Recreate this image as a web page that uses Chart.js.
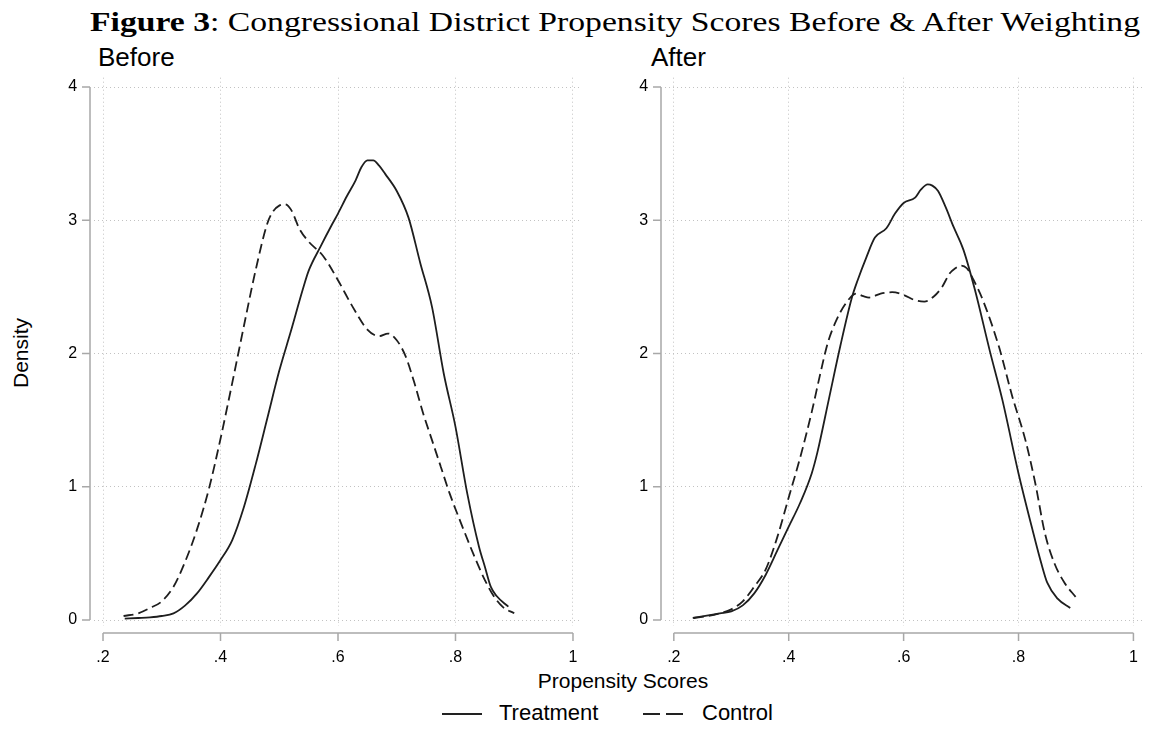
<!DOCTYPE html>
<html>
<head>
<meta charset="utf-8">
<script src="https://cdn.jsdelivr.net/npm/chart.js@4.4.1/dist/chart.umd.min.js"></script>
<style>
  body { margin: 0; background: #fff; width: 1151px; height: 731px; position: relative; overflow: hidden;
         font-family: "Liberation Sans", Arial, sans-serif; color: #000; }
  .abs { position: absolute; white-space: nowrap; line-height: 1; }
  #title { left: 90px; top: 7.5px; font-family: "Liberation Serif", serif; font-size: 28px; transform-origin: 0 50%; }
  .sub { top: 44px; font-size: 26px; }
  #ylab { left: 20px; top: 353px; font-size: 21px; transform: translate(-50%, -50%) rotate(-90deg); }
  #xlab { left: 623px; top: 670px; font-size: 21px; transform: translateX(-50%); }
  .leg { top: 702px; font-size: 22px; }
  .sample { position: absolute; height: 2px; top: 713px; width: 40px; }
  canvas { position: absolute; top: 0; }
</style>
</head>
<body>
<div id="title" class="abs"><b>Figure 3</b>: Congressional District Propensity Scores Before &amp; After Weighting</div>
<div class="abs sub" style="left:98px">Before</div>
<div class="abs sub" style="left:651px">After</div>
<div id="ylab" class="abs">Density</div>
<div id="xlab" class="abs">Propensity Scores</div>

<div class="sample" style="left:442px; background:#222"></div>
<div class="abs leg" style="left:499px">Treatment</div>
<div class="sample" style="left:643px; background:repeating-linear-gradient(to right, #222 0 17px, transparent 17px 23px)"></div>
<div class="abs leg" style="left:702px">Control</div>

<canvas id="before" width="620" height="731" style="left:0"></canvas>
<canvas id="after" width="600" height="731" style="left:560px"></canvas>

<script>
// axes
const xTickVals = [0.2, 0.4, 0.6, 0.8, 1];
const xTickLabels = ['.2', '.4', '.6', '.8', '1'];
const yTickVals = [0, 1, 2, 3, 4];
const yTickLabels = ['0', '1', '2', '3', '4'];

// Before weighting
const beforeTreatX = [0.237, 0.26, 0.28, 0.30, 0.32, 0.34, 0.36, 0.38, 0.40, 0.42, 0.44, 0.46, 0.48, 0.50, 0.52, 0.54, 0.55, 0.57, 0.59, 0.60, 0.615, 0.63, 0.64, 0.65, 0.66, 0.67, 0.68, 0.70, 0.72, 0.74, 0.76, 0.78, 0.80, 0.82, 0.84, 0.85, 0.86, 0.87, 0.89];
const beforeTreatY = [0.01, 0.015, 0.02, 0.03, 0.05, 0.11, 0.2, 0.32, 0.45, 0.6, 0.85, 1.17, 1.52, 1.87, 2.17, 2.48, 2.62, 2.8, 2.97, 3.05, 3.18, 3.3, 3.4, 3.45, 3.45, 3.41, 3.35, 3.22, 3.02, 2.68, 2.35, 1.85, 1.45, 0.95, 0.55, 0.4, 0.25, 0.18, 0.1];
const beforeCtrlX = [0.235, 0.26, 0.28, 0.30, 0.32, 0.34, 0.36, 0.38, 0.40, 0.42, 0.44, 0.46, 0.48, 0.49, 0.50, 0.51, 0.52, 0.535, 0.55, 0.575, 0.60, 0.625, 0.65, 0.67, 0.685, 0.70, 0.715, 0.73, 0.745, 0.76, 0.775, 0.79, 0.81, 0.83, 0.85, 0.865, 0.88, 0.90];
const beforeCtrlY = [0.03, 0.05, 0.09, 0.14, 0.25, 0.44, 0.68, 0.98, 1.36, 1.78, 2.21, 2.63, 2.98, 3.07, 3.11, 3.12, 3.08, 2.93, 2.84, 2.73, 2.55, 2.35, 2.18, 2.13, 2.15, 2.1, 1.98, 1.78, 1.55, 1.35, 1.15, 0.95, 0.72, 0.5, 0.3, 0.18, 0.1, 0.05];

// After weighting
const afterTreatX = [0.233, 0.26, 0.28, 0.30, 0.32, 0.34, 0.36, 0.38, 0.40, 0.42, 0.44, 0.45, 0.47, 0.49, 0.51, 0.52, 0.535, 0.55, 0.57, 0.585, 0.60, 0.62, 0.63, 0.642, 0.65, 0.66, 0.673, 0.687, 0.704, 0.724, 0.75, 0.772, 0.80, 0.823, 0.84, 0.85, 0.868, 0.89];
const afterTreatY = [0.015, 0.035, 0.05, 0.065, 0.11, 0.2, 0.34, 0.52, 0.7, 0.88, 1.1, 1.26, 1.66, 2.06, 2.42, 2.55, 2.72, 2.87, 2.94, 3.05, 3.13, 3.17, 3.23, 3.27, 3.26, 3.22, 3.1, 2.95, 2.78, 2.48, 2.02, 1.65, 1.1, 0.7, 0.42, 0.28, 0.16, 0.09];
const afterCtrlX = [0.235, 0.26, 0.28, 0.30, 0.32, 0.34, 0.36, 0.38, 0.40, 0.42, 0.44, 0.454, 0.468, 0.483, 0.50, 0.517, 0.53, 0.54, 0.56, 0.58, 0.60, 0.62, 0.636, 0.653, 0.667, 0.68, 0.69, 0.70, 0.71, 0.722, 0.738, 0.766, 0.789, 0.812, 0.829, 0.846, 0.863, 0.88, 0.90];
const afterCtrlY = [0.015, 0.03, 0.05, 0.08, 0.14, 0.25, 0.38, 0.62, 0.92, 1.22, 1.56, 1.83, 2.08, 2.25, 2.38, 2.45, 2.43, 2.42, 2.45, 2.46, 2.44, 2.40, 2.39, 2.43, 2.5, 2.6, 2.64, 2.66, 2.64, 2.55, 2.4, 2.05, 1.68, 1.35, 1.03, 0.65, 0.42, 0.28, 0.17];

// title width fitted to the reference
var titleDiv = document.getElementById('title');
titleDiv.style.transform = 'scaleX(' + (1050 / titleDiv.getBoundingClientRect().width) + ')';

// Stata style axis lines, offset from the plot region
var stataAxes = {
    id: 'stataAxes',
    afterDraw: function(chart) {
        const ctx = chart.ctx, area = chart.chartArea;
        const x = chart.scales.x, y = chart.scales.y;
        ctx.save();
        ctx.strokeStyle = '#a8a8a8';
        ctx.lineWidth = 1.5;
        ctx.beginPath();
        const ax = Math.round(area.left) - 4;
        ctx.moveTo(ax, y.getPixelForValue(yTickVals[0]));
        ctx.lineTo(ax, y.getPixelForValue(yTickVals[yTickVals.length - 1]));
        yTickVals.forEach(v => {
            const py = y.getPixelForValue(v);
            ctx.moveTo(ax - 8, py);
            ctx.lineTo(ax, py);
        });
        const ay = Math.round(area.bottom) + 7;
        ctx.moveTo(x.getPixelForValue(xTickVals[0]), ay);
        ctx.lineTo(x.getPixelForValue(xTickVals[xTickVals.length - 1]), ay);
        xTickVals.forEach(v => {
            const px = x.getPixelForValue(v);
            ctx.moveTo(px, ay);
            ctx.lineTo(px, ay + 8);
        });
        ctx.stroke();
        ctx.restore();
    }
};

function points(xs, ys) {
    return xs.map((v, i) => ({ x: v, y: ys[i] }));
}

function makePanel(id, tx, ty, cx, cy, yWidth, pad) {
    return new Chart(document.getElementById(id), {
        type: 'line',
        data: {
            datasets: [
                { label: 'Treatment', data: points(tx, ty), borderColor: '#1e1e1e', borderWidth: 1.8,
                  pointRadius: 0, cubicInterpolationMode: 'monotone', fill: false },
                { label: 'Control', data: points(cx, cy), borderColor: '#1e1e1e', borderWidth: 1.8,
                  borderDash: [10, 5], pointRadius: 0, cubicInterpolationMode: 'monotone', fill: false }
            ]
        },
        options: {
            responsive: false,
            animation: false,
            events: [],
            layout: { padding: pad },
            plugins: { legend: { display: false }, tooltip: { enabled: false } },
            scales: {
                x: {
                    type: 'linear', min: 0.185, max: 1.015,
                    afterBuildTicks: s => { s.ticks = xTickVals.map(v => ({ value: v })); },
                    afterFit: s => { s.height = 40; },
                    ticks: { callback: (v, i) => xTickLabels[i], padding: 22, autoSkip: false, maxRotation: 0,
                             color: '#000', font: { family: 'Liberation Sans', size: 16 } },
                    grid: { color: '#c2c2c2', lineWidth: 1, drawTicks: false },
                    border: { display: false, dash: [1, 3] }
                },
                y: {
                    min: -0.045, max: 4.07,
                    afterBuildTicks: s => { s.ticks = yTickVals.map(v => ({ value: v })); },
                    afterFit: s => { s.width = yWidth; },
                    ticks: { callback: (v, i) => yTickLabels[i], padding: 17,
                             color: '#000', font: { family: 'Liberation Sans', size: 16 } },
                    grid: { color: '#c2c2c2', lineWidth: 1, drawTicks: false },
                    border: { display: false, dash: [1, 3] }
                }
            }
        },
        plugins: [stataAxes]
    });
}

makePanel('before', beforeTreatX, beforeTreatY, beforeCtrlX, beforeCtrlY, 94.2,
          { left: 0, right: 38.2, top: 77.7, bottom: 65 });
makePanel('after', afterTreatX, afterTreatY, afterCtrlX, afterCtrlY, 105.2,
          { left: 0, right: 7.2, top: 77.7, bottom: 65 });
</script>
</body>
</html>
